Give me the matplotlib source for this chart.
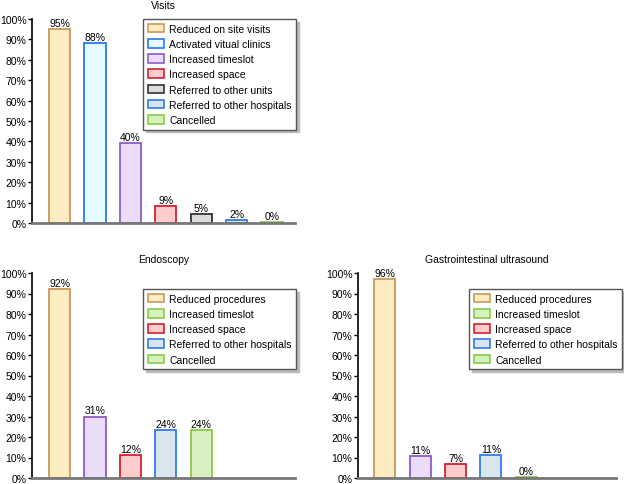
import matplotlib.pyplot as plt
from matplotlib.patches import Patch

plt.rcParams['font.family'] = ['Liberation Sans', 'DejaVu Sans']
plt.rcParams['font.size'] = 7.5

# Visits panel
visits_labels = ['Reduced on site visits', 'Activated vitual clinics', 'Increased timeslot',
                 'Increased space', 'Referred to other units', 'Referred to other hospitals', 'Cancelled']
visits_values = [95, 88, 39, 8.5, 4.5, 1.5, 0.5]
visits_text = ['95%', '88%', '40%', '9%', '5%', '2%', '0%']

# Endoscopy panel
endo_labels = ['Reduced procedures', 'Increased timeslot', 'Increased space',
               'Referred to other hospitals', 'Cancelled']
endo_values = [92, 30, 11, 23.5, 23.5]
endo_text = ['92%', '31%', '12%', '24%', '24%']

# Gastrointestinal ultrasound panel
us_labels = ['Reduced procedures', 'Increased timeslot', 'Increased space',
             'Referred to other hospitals', 'Cancelled']
us_values = [97, 10.5, 7, 11, 0.5]
us_text = ['96%', '11%', '7%', '11%', '0%']

STYLE = {
    'yellow': ('#fdecbf', '#c79a5e'),
    'cyan': ('#e4fbff', '#2a78f0'),
    'purple': ('#ebdcf9', '#8b5cc9'),
    'red': ('#ffcccd', '#d7232c'),
    'gray': ('#dcdcdc', '#333333'),
    'blue': ('#d9e6ef', '#2f7ce8'),
    'green': ('#d9f1c1', '#86cc45'),
}

visits_bar_col = ['yellow', 'cyan', 'purple', 'red', 'gray', 'blue', 'green']
visits_leg_col = visits_bar_col
endo_bar_col = ['yellow', 'purple', 'red', 'blue', 'green']
endo_leg_col = ['yellow', 'green', 'red', 'blue', 'green']
us_bar_col = ['yellow', 'purple', 'red', 'blue', 'green']
us_leg_col = ['yellow', 'green', 'red', 'blue', 'green']

fig = plt.figure(figsize=(6.24, 4.85), dpi=100)
W, H = 624, 485


def panel(rect, title, values, texts, bar_cols, leg_labels, leg_cols, xlim, leg_box):
    x0, y0, x1, y1 = rect  # pixel coords, top-left origin
    ax = fig.add_axes([x0 / W, 1 - y1 / H, (x1 - x0) / W, (y1 - y0) / H])
    xs = range(len(values))
    for x, v, t, c in zip(xs, values, texts, bar_cols):
        fc, ec = STYLE[c]
        ax.bar(x, v, width=0.6, color=fc, edgecolor=ec, linewidth=1.3, zorder=2)
        ax.text(x, v + 0.5, t, ha='center', va='bottom', fontsize=7.5)
    ax.set_xlim(*xlim)
    ax.set_ylim(0, 100)
    ax.set_yticks(range(0, 101, 10))
    ax.set_yticklabels([f'{v}%' for v in range(0, 101, 10)])
    ax.set_xticks([])
    ax.tick_params(axis='y', length=3, width=1, pad=1)
    ax.spines['top'].set_visible(False)
    ax.spines['right'].set_visible(False)
    ax.spines['left'].set_linewidth(1.2)
    ax.spines['bottom'].set_color('#777777')
    ax.spines['bottom'].set_linewidth(2)
    ax.set_title(title, fontsize=7.5, pad=8)
    handles = [Patch(facecolor=STYLE[c][0], edgecolor=STYLE[c][1], linewidth=1.2) for c in leg_cols]
    lx0, ly0 = leg_box
    leg = ax.legend(handles, leg_labels, loc='upper left',
                    bbox_to_anchor=(lx0 / W, 1 - ly0 / H), bbox_transform=fig.transFigure,
                    frameon=True, fancybox=False, shadow={'color': '#bbbbbb', 'alpha': 1},
                    handlelength=1.6, handleheight=0.9, handletextpad=0.45,
                    labelspacing=0.5, borderpad=0.45, borderaxespad=0, fontsize=7.5)
    leg.get_frame().set_edgecolor('#555555')
    leg.get_frame().set_linewidth(1)
    return ax


panel((32, 20, 295, 224), 'Visits', visits_values, visits_text, visits_bar_col,
      visits_labels, visits_leg_col, (-0.78, 6.65), (143, 20))
panel((32, 274, 295, 479), 'Endoscopy', endo_values, endo_text, endo_bar_col,
      endo_labels, endo_leg_col, (-0.78, 6.65), (143, 290))
panel((358, 274, 616, 479), 'Gastrointestinal ultrasound', us_values, us_text, us_bar_col,
      us_labels, us_leg_col, (-0.76, 6.54), (469, 290))

fig.savefig('out.png', dpi=100)
